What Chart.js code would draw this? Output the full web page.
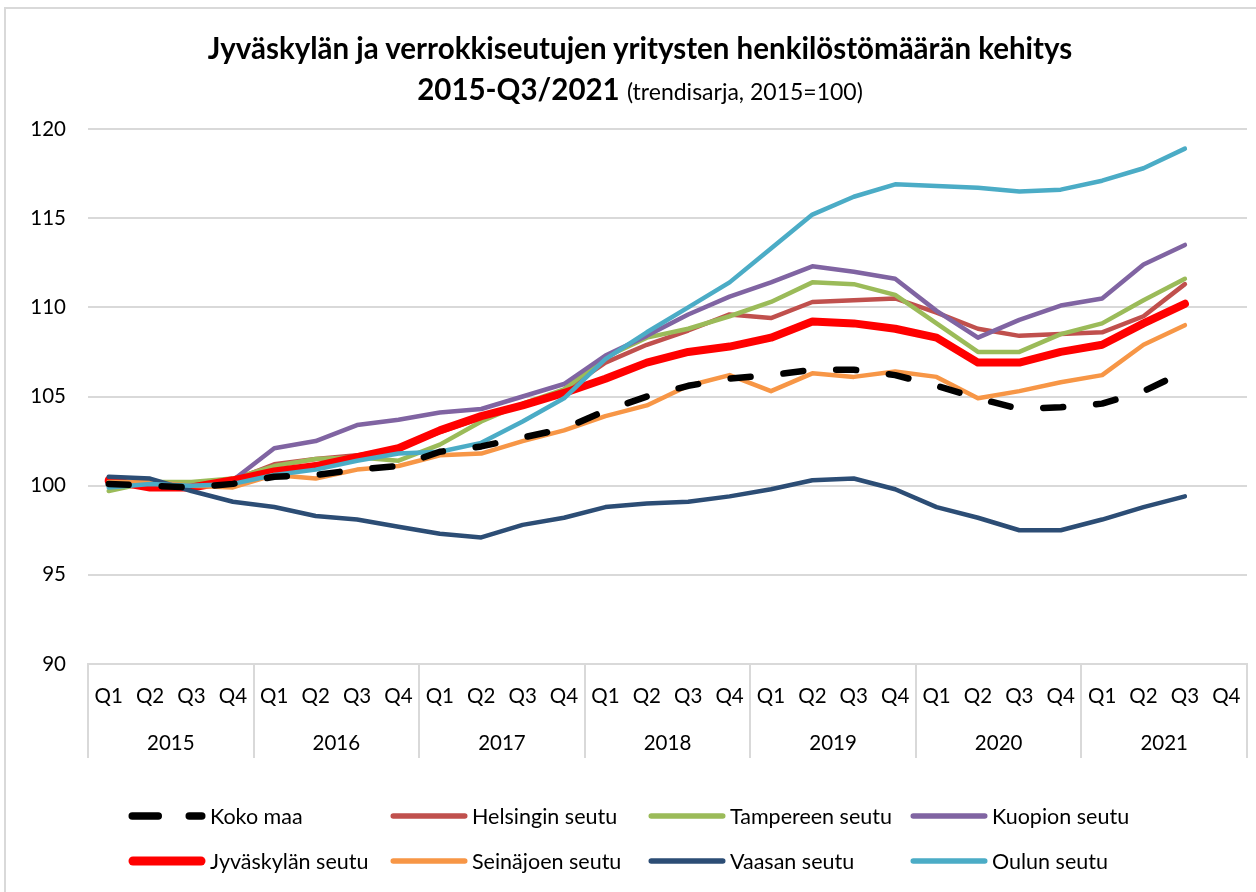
<!DOCTYPE html>
<html>
<head>
<meta charset="utf-8">
<script src="https://cdn.jsdelivr.net/npm/chart.js@4/dist/chart.umd.min.js"></script>
<style>
  body { margin: 0; background: #fff; overflow: hidden; }
  #wrap { position: relative; width: 1256px; height: 892px; font-family: Lato, "Open Sans", sans-serif; color: #000; }
  #frame { position: absolute; left: 4px; top: 7px; width: 1300px; height: 1000px; border-left: 2px solid #d9d9d9; border-top: 2px solid #d9d9d9; }
  #title { position: absolute; left: 40px; width: 1200px; top: 27px; text-align: center; font-size: 29.5px; line-height: 41px; font-weight: bold; }
  #title .sub { font-weight: normal; font-size: 23px; }
  canvas { position: absolute; left: 0; top: 0; }
  .leg { position: absolute; font-size: 21.5px; line-height: 24px; white-space: nowrap; }
  .leg svg { position: absolute; left: 0; top: 0; }
  .leg span { position: absolute; left: 82px; top: 0; }
</style>
</head>
<body>
<div id="wrap">
  <div id="frame"></div>
  <canvas id="grafico" width="1256" height="892"></canvas>
  <div id="title">Jyväskylän ja verrokkiseutujen yritysten henkilöstömäärän kehitys<br>2015-Q3/2021 <span class="sub">(trendisarja, 2015=100)</span></div>
  <div id="leyenda"></div>
</div>
<script>
// Datos del gráfico
const vuodet = ['2015', '2016', '2017', '2018', '2019', '2020', '2021'];
const neljannekset = ['Q1', 'Q2', 'Q3', 'Q4'];

const kokoMaa    = [100.1, 100.0, 99.9, 100.1, 100.5, 100.6, 100.9, 101.1, 101.9, 102.2, 102.7, 103.2, 104.2, 105.0, 105.6, 106.0, 106.2, 106.5, 106.5, 106.2, 105.6, 104.9, 104.3, 104.4, 104.6, 105.3, 106.4];
const helsinki   = [100.2, 100.0, 99.9, 100.3, 101.2, 101.5, 101.7, 102.1, 103.0, 103.8, 104.5, 105.3, 106.9, 107.9, 108.7, 109.6, 109.4, 110.3, 110.4, 110.5, 109.7, 108.8, 108.4, 108.5, 108.6, 109.5, 111.3];
const tampere    = [99.7, 100.2, 100.2, 100.4, 101.1, 101.5, 101.6, 101.4, 102.3, 103.6, 104.6, 105.4, 107.2, 108.3, 108.8, 109.5, 110.3, 111.4, 111.3, 110.7, 109.1, 107.5, 107.5, 108.5, 109.1, 110.4, 111.6];
const kuopio     = [100.2, 100.1, 100.0, 100.3, 102.1, 102.5, 103.4, 103.7, 104.1, 104.3, 105.0, 105.7, 107.3, 108.4, 109.6, 110.6, 111.4, 112.3, 112.0, 111.6, 109.8, 108.3, 109.3, 110.1, 110.5, 112.4, 113.5];
const jyvaskyla  = [100.3, 99.9, 99.9, 100.3, 100.8, 101.1, 101.6, 102.1, 103.1, 103.9, 104.5, 105.2, 106.0, 106.9, 107.5, 107.8, 108.3, 109.2, 109.1, 108.8, 108.3, 106.9, 106.9, 107.5, 107.9, 109.1, 110.2];
const seinajoki  = [100.2, 100.2, 100.0, 99.9, 100.6, 100.4, 100.9, 101.1, 101.7, 101.8, 102.5, 103.1, 103.9, 104.5, 105.6, 106.2, 105.3, 106.3, 106.1, 106.4, 106.1, 104.9, 105.3, 105.8, 106.2, 107.9, 109.0];
const vaasa      = [100.5, 100.4, 99.7, 99.1, 98.8, 98.3, 98.1, 97.7, 97.3, 97.1, 97.8, 98.2, 98.8, 99.0, 99.1, 99.4, 99.8, 100.3, 100.4, 99.8, 98.8, 98.2, 97.5, 97.5, 98.1, 98.8, 99.4];
const oulu       = [99.9, 100.1, 100.0, 100.1, 100.6, 100.9, 101.4, 101.8, 101.9, 102.4, 103.6, 104.9, 107.1, 108.6, 110.0, 111.4, 113.3, 115.2, 116.2, 116.9, 116.8, 116.7, 116.5, 116.6, 117.1, 117.8, 118.9];

const sarjat = [
    { nimi: 'Koko maa', data: kokoMaa, vari: '#000000', leveys: 6.5, viiva: [20, 33] },
    { nimi: 'Helsingin seutu', data: helsinki, vari: '#C0504D', leveys: 4.5 },
    { nimi: 'Tampereen seutu', data: tampere, vari: '#9BBB59', leveys: 4.5 },
    { nimi: 'Kuopion seutu', data: kuopio, vari: '#8064A2', leveys: 4.5 },
    { nimi: 'Jyväskylän seutu', data: jyvaskyla, vari: '#FF0000', leveys: 8 },
    { nimi: 'Seinäjoen seutu', data: seinajoki, vari: '#F79646', leveys: 4.5 },
    { nimi: 'Vaasan seutu', data: vaasa, vari: '#2C4D75', leveys: 4.5 },
    { nimi: 'Oulun seutu', data: oulu, vari: '#4BACC6', leveys: 4.5 }
];

// piirtojärjestys: Koko maa päällimmäisenä, sitten Oulu, ...
const jarjestys = [0, 7, 6, 5, 4, 3, 2, 1];

const kvartaalit = [];
vuodet.forEach(v => neljannekset.forEach(q => kvartaalit.push(q)));

const fontti = 'Lato, "Open Sans", sans-serif';

// Erottimet vuosien välille
const erottimet = {
    id: 'erottimet',
    afterDraw(chart) {
        const x = chart.scales.x;
        const x2 = chart.scales.x2;
        const ctx = chart.ctx;
        const leveys = (x.right - x.left) / vuodet.length;
        ctx.save();
        ctx.strokeStyle = '#d9d9d9';
        ctx.lineWidth = 2;
        for (let k = 0; k <= vuodet.length; k++) {
            const px = Math.round(x.left + k * leveys);
            ctx.beginPath();
            ctx.moveTo(px, x.top);
            ctx.lineTo(px, x2.bottom);
            ctx.stroke();
        }
        ctx.restore();
    }
};

const ctx = document.getElementById('grafico').getContext('2d');
new Chart(ctx, {
    type: 'line',
    data: {
        labels: kvartaalit,
        datasets: sarjat.map((s, i) => ({
            label: s.nimi,
            data: s.data,
            borderColor: s.vari,
            backgroundColor: s.vari,
            borderWidth: s.leveys,
            borderDash: s.viiva || [],
            borderCapStyle: 'round',
            borderJoinStyle: 'round',
            pointRadius: 0,
            tension: 0,
            fill: false,
            order: jarjestys.indexOf(i)
        }))
    },
    options: {
        responsive: false,
        animation: false,
        layout: { padding: { left: 0, top: 129, right: 9, bottom: 134 } },
        plugins: {
            legend: { display: false },
            tooltip: { enabled: false }
        },
        scales: {
            y: {
                min: 90,
                max: 120,
                ticks: { stepSize: 5, color: '#000', font: { family: fontti, size: 20.5 }, padding: 22 },
                grid: { color: '#d9d9d9', lineWidth: 2, drawTicks: false },
                border: { display: false },
                afterFit(scale) { scale.width = 88; }
            },
            x: {
                offset: true,
                ticks: { color: '#000', font: { family: fontti, size: 20.5 }, padding: 12, maxRotation: 0, autoSkip: false },
                grid: { display: false },
                border: { display: true, color: '#d9d9d9', width: 2 },
                afterFit(scale) { scale.height = 54; }
            },
            x2: {
                type: 'category',
                position: 'bottom',
                labels: vuodet,
                offset: true,
                ticks: { color: '#000', font: { family: fontti, size: 20.5 }, padding: 5, maxRotation: 0 },
                grid: { display: false },
                border: { display: false },
                afterFit(scale) { scale.height = 40; }
            }
        }
    },
    plugins: [erottimet]
});

// Selite HTML:nä
const leyenda = document.getElementById('leyenda');
const sarakkeet = [128, 390, 648, 910];
const rivit = [804, 849];
sarjat.forEach((s, i) => {
    const d = document.createElement('div');
    d.className = 'leg';
    d.style.left = sarakkeet[i % 4] + 'px';
    d.style.top = rivit[Math.floor(i / 4)] + 'px';
    const dash = s.viiva ? 'stroke-dasharray="26 31"' : '';
    d.innerHTML = `<svg width="80" height="24"><line x1="${s.leveys / 2 + 1}" y1="12" x2="${77 - s.leveys / 2}" y2="12" stroke="${s.vari}" stroke-width="${s.leveys + 1}" stroke-linecap="round" ${dash}/></svg><span>${s.nimi}</span>`;
    leyenda.appendChild(d);
});
</script>
</body>
</html>
